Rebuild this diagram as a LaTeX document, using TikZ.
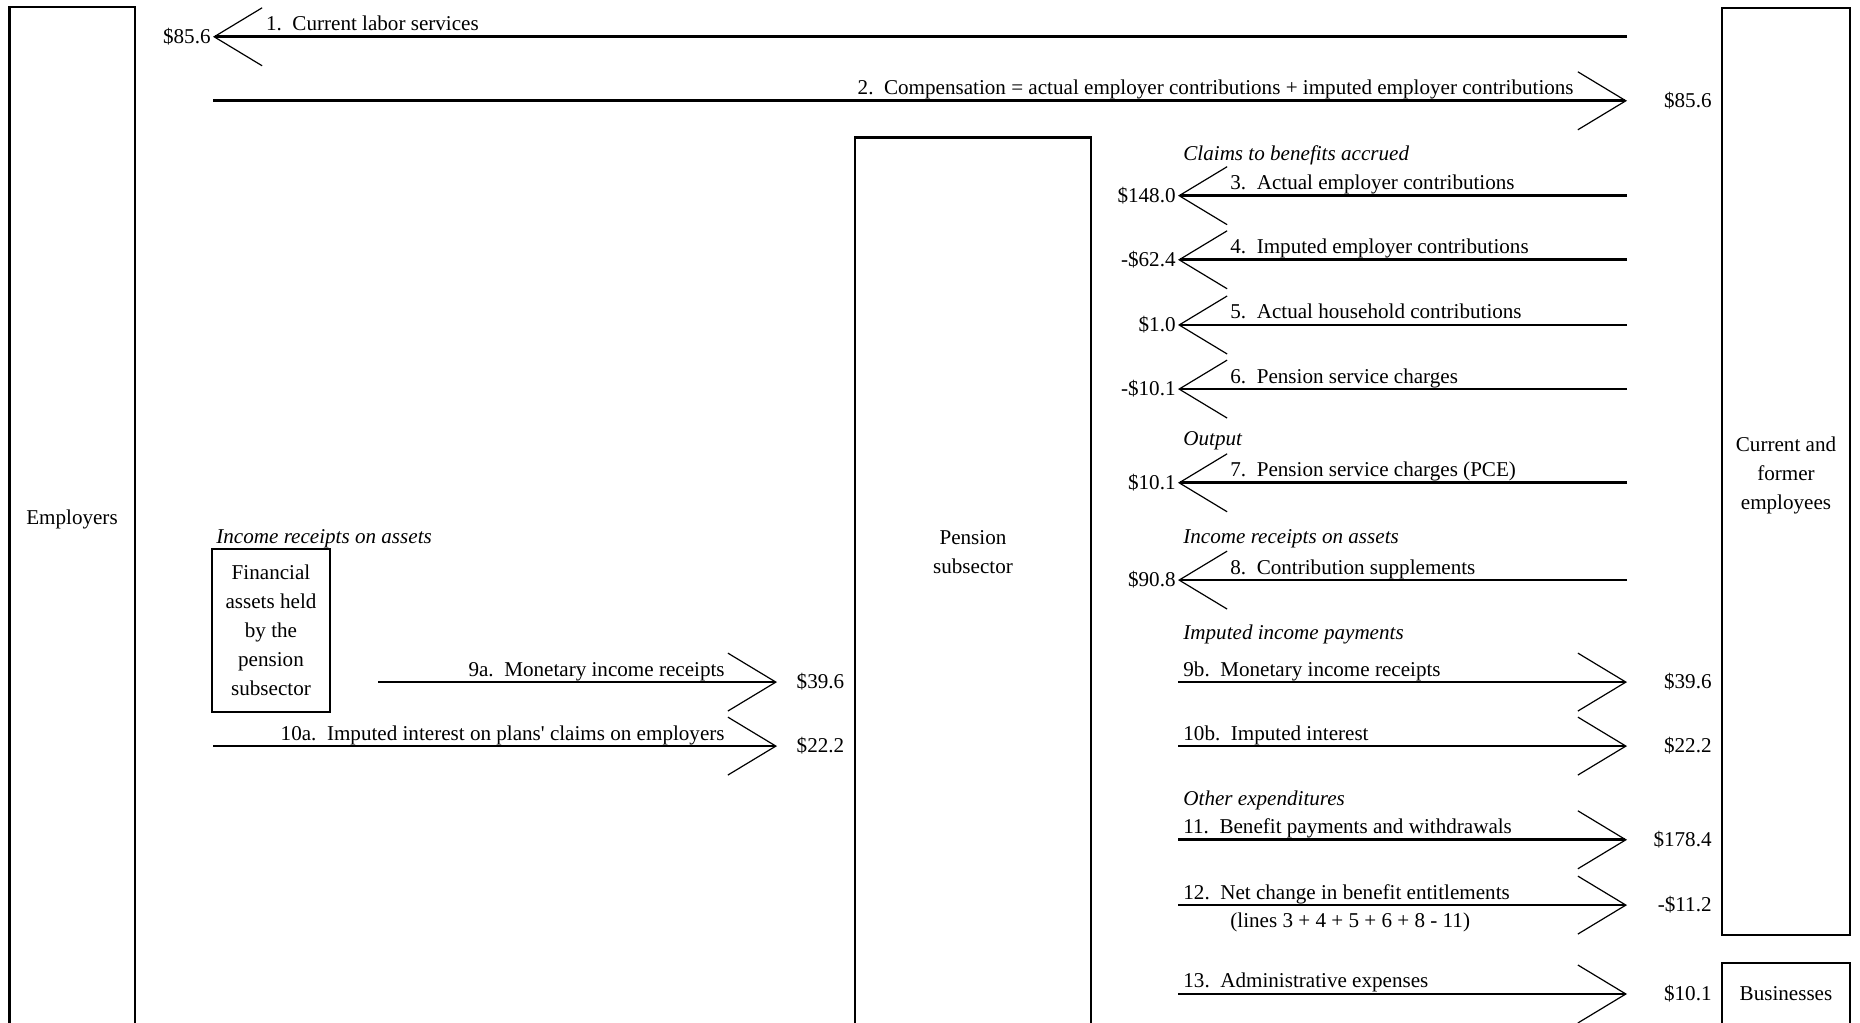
\documentclass[tikz,border=0pt]{standalone}
\usepackage{fontspec}
\setmainfont{Liberation Serif}
\usetikzlibrary{arrows.meta}
\newcommand{\flowfont}{\fontsize{10.55pt}{14.5pt}\selectfont}

\begin{document}
\begin{tikzpicture}[x=50pt, y=50pt,
        every node/.style={font=\flowfont},
        box/.style={draw, line width=1.4pt, align=center, inner sep=0pt},
        flow/.style={line width=1.4pt, -{Straight Barb[length=24pt, width=29pt, line width=0.6pt]}},
        lbl/.style={inner sep=0pt, anchor=base west},
        lblr/.style={inner sep=0pt, anchor=base east},
        amt/.style={inner sep=1pt},
        hdr/.style={inner sep=0pt, anchor=base west, font=\flowfont\itshape}]
        \useasboundingbox (0,0) rectangle (18.6,10.23);
        \clip (0,0) rectangle (18.6,10.23);
        \node[box, minimum width=62.9pt, minimum height=512pt] (employers) at (0.72,5.04) {Employers};
        \node[box, minimum width=64pt, minimum height=463.5pt] (employees) at (17.86,5.515) {};
        \node[align=center, inner sep=0pt] (employeestxt) at (17.86,5.48) {Current and\\former\\employees};
        \node[box, minimum width=64pt, minimum height=31pt] (business) at (17.86,0.29) {Businesses};
        \node[box, minimum width=118pt, minimum height=450pt, anchor=north] (pension) at (9.73,8.87) {};
        \node[align=center, inner sep=0pt] (pensiontxt) at (9.73,4.71) {Pension\\subsector};
        \node[box, minimum width=59pt, minimum height=81.5pt] (assets) at (2.71,3.925) {Financial\\assets held\\by the\\pension\\subsector};
        \coordinate (src1) at (16.27,9.862);
        \coordinate (tip1) at (2.13,9.862);
        \draw[flow] (src1) -- (tip1);
        \node[amt, anchor=east] (amt1) at (tip1) {\$85.6};
        \node[lbl] (lbl1) at (2.657,9.922) {1.~~Current labor services};
        \coordinate (src2) at (2.13,9.222);
        \coordinate (tip2) at (16.27,9.222);
        \draw[flow] (src2) -- (tip2);
        \node[amt, anchor=east] (amt2) at (17.14,9.222) {\$85.6};
        \node[lblr] (lbl2) at (15.74,9.282) {2.~~Compensation = actual employer contributions + imputed employer contributions};
        \node[hdr] (hclaims) at (11.83,8.62) {Claims to benefits accrued};
        \node[hdr] (houtput) at (11.83,5.77) {Output};
        \node[hdr] (hincome) at (11.83,4.79) {Income receipts on assets};
        \node[hdr] (himputed) at (11.83,3.83) {Imputed income payments};
        \node[hdr] (hother) at (11.83,2.17) {Other expenditures};
        \node[hdr] (hassets) at (2.16,4.79) {Income receipts on assets};
        \foreach \n/\y/\v/\t in {3/8.273/\$148.0/Actual employer contributions,
                4/7.632/-\$62.4/Imputed employer contributions,
                5/6.980/\$1.0/Actual household contributions,
                6/6.339/-\$10.1/Pension service charges,
                7/5.402/\$10.1/Pension service charges (PCE),
                8/4.429/\$90.8/Contribution supplements}{
            \coordinate (src\n) at (16.27,\y);
            \coordinate (tip\n) at (11.78,\y);
            \draw[flow] (src\n) -- (tip\n);
            \node[amt, anchor=east] (amt\n) at (tip\n) {\v};
            \node[lbl] (lbl\n) at (12.30,\y+0.06) {\n.~~\t};
        }
        \foreach \n/\y/\v/\t in {9b/3.409/\$39.6/Monetary income receipts,
                10b/2.769/\$22.2/Imputed interest,
                11/1.832/\$178.4/Benefit payments and withdrawals,
                12/1.179/-\$11.2/Net change in benefit entitlements,
                13/0.290/\$10.1/Administrative expenses}{
            \coordinate (src\n) at (11.78,\y);
            \coordinate (tip\n) at (16.27,\y);
            \draw[flow] (src\n) -- (tip\n);
            \node[amt, anchor=east] (amt\n) at (17.14,\y) {\v};
            \node[lbl] (lbl\n) at (11.83,\y+0.06) {\n.~~\t};
        }
        \node[lbl] (note12) at (12.30,0.95) {(lines 3 + 4 + 5 + 6 + 8 - 11)};
        \foreach \n/\x/\y/\v/\t in {9a/3.78/3.409/\$39.6/Monetary income receipts,
                10a/2.13/2.769/\$22.2/Imputed interest on plans\textquotesingle{} claims on employers}{
            \coordinate (src\n) at (\x,\y);
            \coordinate (tip\n) at (7.77,\y);
            \draw[flow] (src\n) -- (tip\n);
            \node[amt, anchor=east] (amt\n) at (8.466,\y) {\v};
            \node[lblr] (lbl\n) at (7.25,\y+0.06) {\n.~~\t};
        }
\end{tikzpicture}
\end{document}
